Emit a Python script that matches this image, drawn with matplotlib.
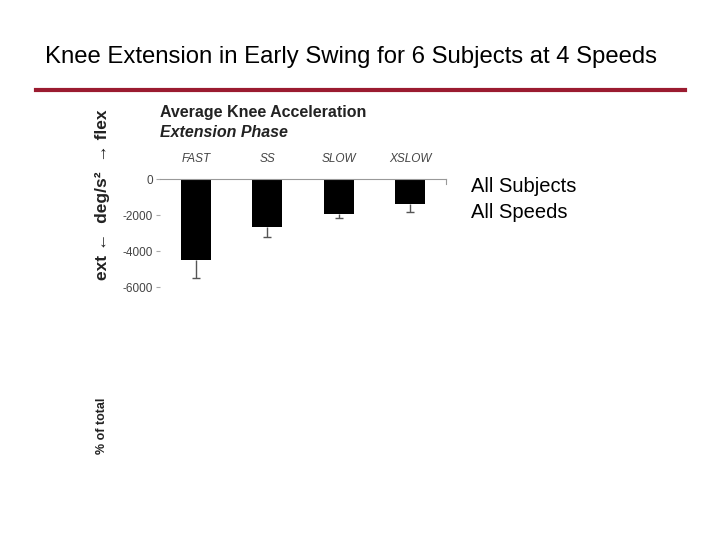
import matplotlib.pyplot as plt

plt.rcParams['font.family'] = ['Liberation Sans', 'DejaVu Sans']

# Data
speeds = ['FAST', 'SS', 'SLOW', 'XSLOW']
accel = [-4500, -2680, -1920, -1380]
err_low = [1000, 520, 250, 460]
yticks = [0, -2000, -4000, -6000]

fig = plt.figure(figsize=(7.2, 5.4), dpi=100)

# slide title and red rule
fig.text(45 / 720, 1 - 57 / 540, 'Knee Extension in Early Swing for 6 Subjects at 4 Speeds',
         fontsize=17.2, va='center', ha='left')
fig.add_artist(plt.Line2D([36 / 720, 685 / 720], [1 - 90 / 540, 1 - 90 / 540],
                          color='#9b1b30', lw=3))

# chart
ax = fig.add_axes([160 / 720, 1 - 287 / 540, 286 / 720, 108 / 540])
x = list(range(len(speeds)))
ax.bar(x, accel, width=0.42, color='black', zorder=2)
# lower error bars only, cap at the bottom end
ax.errorbar(x, accel, yerr=[err_low, [0] * len(err_low)], fmt='none',
            ecolor='#555555', elinewidth=1, capsize=0, zorder=3)
ax.scatter(x, [a - e for a, e in zip(accel, err_low)], marker='_', s=30,
           color='#555555', linewidths=1, zorder=3)
ax.set_ylim(-6000, 0)
ax.set_xlim(-0.5, 3.5)
ax.set_yticks(yticks)
ax.set_yticklabels([str(t) for t in yticks], fontsize=8.5, color='#444444')
ax.xaxis.tick_top()
ax.set_xticks(x)
ax.set_xticklabels(speeds, fontsize=8.5, style='italic', color='#444444')
ax.tick_params(axis='x', length=0, pad=10)
ax.tick_params(axis='y', length=3, pad=2, color='#aaaaaa', width=0.8)
for s in ['left', 'right', 'bottom']:
    ax.spines[s].set_visible(False)
ax.spines['top'].set_color('#999999')
ax.spines['top'].set_linewidth(0.8)
# end tick of the category axis
ax.plot([3.5, 3.5], [0, -250], color='#999999', lw=0.8, clip_on=False)

fig.text(160 / 720, 1 - 112 / 540, 'Average Knee Acceleration', fontsize=11.5,
         fontweight='bold', va='center', ha='left', color='#222222')
fig.text(160 / 720, 1 - 133 / 540, 'Extension Phase', fontsize=11.5,
         fontweight='bold', style='italic', va='center', ha='left', color='#222222')

# rotated axis labels
fig.text(102 / 720, 1 - 195 / 540, 'ext \u2190  deg/s\u00b2  \u2192 flex', rotation=90,
         fontsize=12.5, fontweight='bold', va='center', ha='center', color='#222222')
fig.text(102 / 720, 1 - 426 / 540, '% of total', rotation=90,
         fontsize=9, fontweight='bold', va='center', ha='center', color='#222222')

fig.text(471 / 720, 1 - 186 / 540, 'All Subjects', fontsize=14.5, va='center', ha='left')
fig.text(471 / 720, 1 - 213 / 540, 'All Speeds', fontsize=14.5, va='center', ha='left')

fig.savefig('out.png', dpi=100)
plt.close(fig)
